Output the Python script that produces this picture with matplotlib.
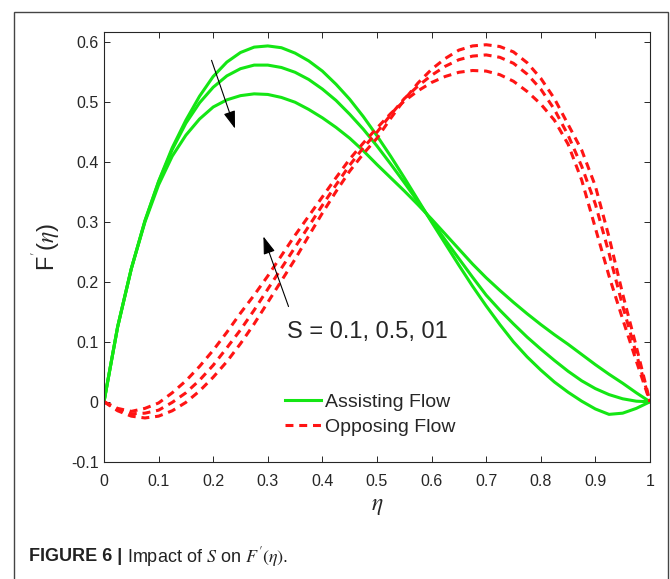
import numpy as np
import matplotlib
matplotlib.use("Agg")
import matplotlib.pyplot as plt
from matplotlib.lines import Line2D
from matplotlib.patches import Rectangle
from matplotlib import rcParams

rcParams["font.family"] = "Liberation Sans"
rcParams["mathtext.fontset"] = "stix"

eta = [0, 0.025, 0.05, 0.075, 0.1, 0.125, 0.15, 0.175, 0.2, 0.225, 0.25, 0.275, 0.3,
       0.325, 0.35, 0.375, 0.4, 0.425, 0.45, 0.475, 0.5, 0.525, 0.55, 0.575, 0.6,
       0.625, 0.65, 0.675, 0.7, 0.725, 0.75, 0.775, 0.8, 0.825, 0.85, 0.875, 0.9,
       0.925, 0.95, 0.975, 1.0]

# assisting flow, S = 0.1, 0.5, 1
assist_s01 = [0, 0.125, 0.222, 0.302, 0.368, 0.424, 0.47, 0.51, 0.543, 0.567, 0.583,
              0.592, 0.594, 0.591, 0.582, 0.569, 0.552, 0.530, 0.505, 0.476, 0.444,
              0.41, 0.374, 0.337, 0.30, 0.264, 0.228, 0.193, 0.16, 0.129, 0.10, 0.075,
              0.053, 0.033, 0.016, 0.001, -0.012, -0.021, -0.019, -0.011, 0]
assist_s05 = [0, 0.125, 0.222, 0.302, 0.367, 0.421, 0.465, 0.499, 0.525, 0.544, 0.556,
              0.562, 0.562, 0.558, 0.55, 0.538, 0.522, 0.503, 0.48, 0.455, 0.427,
              0.397, 0.366, 0.334, 0.302, 0.27, 0.239, 0.208, 0.178, 0.153, 0.130,
              0.108, 0.088, 0.069, 0.051, 0.035, 0.022, 0.012, 0.005, 0.001, 0]
assist_s1 = [0, 0.125, 0.222, 0.30, 0.362, 0.41, 0.445, 0.472, 0.492, 0.504, 0.511,
             0.514, 0.513, 0.508, 0.50, 0.488, 0.474, 0.458, 0.44, 0.419, 0.396,
             0.374, 0.352, 0.329, 0.305, 0.28, 0.255, 0.23, 0.207, 0.186, 0.166,
             0.147, 0.129, 0.112, 0.096, 0.079, 0.062, 0.046, 0.031, 0.015, 0]

# opposing flow
oppose_a = [0, -0.011, -0.016, -0.011, -0.002, 0.015, 0.035, 0.059, 0.086, 0.116, 0.148,
            0.178, 0.21, 0.244, 0.278, 0.31, 0.342, 0.374, 0.405, 0.432, 0.457, 0.481,
            0.502, 0.519, 0.533, 0.543, 0.55, 0.553, 0.552, 0.546, 0.535, 0.518, 0.497,
            0.47, 0.43, 0.37, 0.29, 0.21, 0.138, 0.068, 0]
oppose_b = [0, -0.013, -0.02, -0.019, -0.014, -0.001, 0.015, 0.036, 0.061, 0.09, 0.12,
            0.153, 0.188, 0.223, 0.258, 0.293, 0.328, 0.362, 0.395, 0.424, 0.45, 0.479,
            0.506, 0.527, 0.545, 0.56, 0.571, 0.577, 0.579, 0.575, 0.565, 0.547, 0.522,
            0.488, 0.445, 0.393, 0.33, 0.248, 0.16, 0.08, 0]
oppose_c = [0, -0.015, -0.024, -0.027, -0.024, -0.015, -0.001, 0.018, 0.041, 0.067, 0.097,
            0.13, 0.166, 0.202, 0.238, 0.277, 0.315, 0.351, 0.385, 0.414, 0.44, 0.473,
            0.504, 0.532, 0.555, 0.573, 0.587, 0.594, 0.596, 0.593, 0.584, 0.566, 0.54,
            0.506, 0.463, 0.42, 0.36, 0.275, 0.18, 0.092, 0]

x_ticks = [0, 0.1, 0.2, 0.3, 0.4, 0.5, 0.6, 0.7, 0.8, 0.9, 1]
x_ticklabels = ["0", "0.1", "0.2", "0.3", "0.4", "0.5", "0.6", "0.7", "0.8", "0.9", "1"]
y_ticks = [-0.1, 0, 0.1, 0.2, 0.3, 0.4, 0.5, 0.6]
y_ticklabels = ["-0.1", "0", "0.1", "0.2", "0.3", "0.4", "0.5", "0.6"]

green = "#14e614"
red = "#ff1414"
dark = "#262626"
dash = (0, (2.6, 1.9))

fig = plt.figure(figsize=(6.7, 5.79), dpi=100)
ax = fig.add_axes([0.1552, 0.2026, 0.8149, 0.7426])

for ys in (assist_s01, assist_s05, assist_s1):
    ax.plot(eta, ys, color=green, lw=2.2, solid_joinstyle="round")
for ys in (oppose_a, oppose_b, oppose_c):
    ax.plot(eta, ys, color=red, lw=2.2, linestyle=dash)

ax.set_xlim(0, 1)
ax.set_ylim(-0.1, 0.6177)
ax.set_xticks(x_ticks)
ax.set_xticklabels(x_ticklabels)
ax.set_yticks(y_ticks)
ax.set_yticklabels(y_ticklabels)
ax.tick_params(direction="in", length=4, width=0.7, colors=dark, labelsize=11.5,
               top=True, right=True)
ax.tick_params(axis="x", pad=9)
ax.tick_params(axis="y", pad=4)
for sp in ax.spines.values():
    sp.set_color(dark)
    sp.set_linewidth(0.8)

ax.set_ylabel(r"F$^{'}$($\eta$)", fontsize=17, color=dark)
ax.yaxis.set_label_coords(-0.073, 0.5)
ax.set_xlabel(r"$\eta$", fontsize=17, color=dark)
ax.xaxis.set_label_coords(0.5, -0.078)

# arrows showing the effect of S
ax.annotate("", xy=(0.240, 0.456), xytext=(0.197, 0.570),
            arrowprops=dict(arrowstyle="-|>,head_length=0.9,head_width=0.3",
                            color="black", lw=0.8, mutation_scale=12, shrinkA=0, shrinkB=0))
ax.annotate("", xy=(0.292, 0.276), xytext=(0.338, 0.159),
            arrowprops=dict(arrowstyle="-|>,head_length=0.9,head_width=0.3",
                            color="black", lw=0.8, mutation_scale=12, shrinkA=0, shrinkB=0))
ax.text(0.336, 0.1165, "S = 0.1, 0.5, 01", fontsize=17, color=dark, va="center", ha="left")

handles = [Line2D([], [], color=green, lw=2.2),
           Line2D([], [], color=red, lw=2.2, linestyle=dash)]
ax.legend(handles, ["Assisting Flow", "Opposing Flow"], loc="upper left",
          bbox_to_anchor=(0.331, 0.160), frameon=False, fontsize=14, handlelength=1.85,
          handletextpad=0.2, labelspacing=0.40, borderpad=0, borderaxespad=0,
          labelcolor=dark)

# outer frame of the figure panel
fig.patches.append(Rectangle((0.0209, -0.1), 0.976, 1.0788, transform=fig.transFigure,
                             fill=False, edgecolor="#444444", lw=1.0))

# caption: bold label, then plain text right after it
fig.canvas.draw()
t1 = fig.text(0.043, 0.038, "FIGURE 6 |", fontsize=13, fontweight="bold",
              color="#222222", va="center")
bb = t1.get_window_extent(renderer=fig.canvas.get_renderer())
x2 = (bb.x1 + 5) / fig.bbox.width
fig.text(x2, 0.038, r"Impact of $S$ on $F'(\eta)$.", fontsize=13,
         color="#222222", va="center")

fig.savefig("out.png", dpi=100)
